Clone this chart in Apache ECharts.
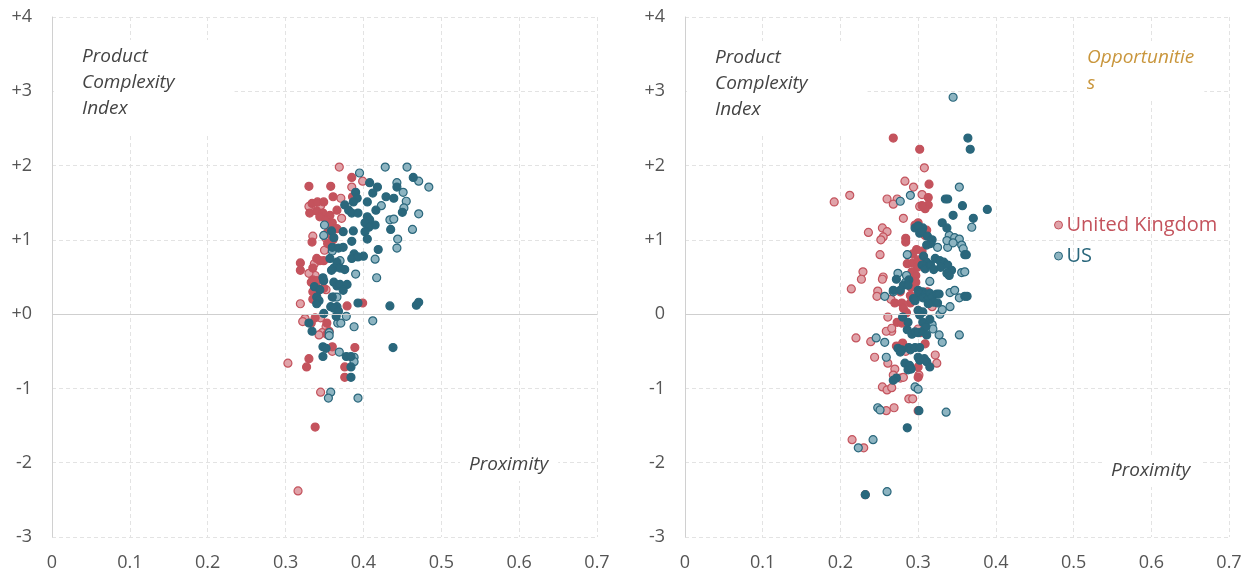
<!DOCTYPE html>
<html>
<head>
<meta charset="utf-8">
<script src="https://cdn.jsdelivr.net/npm/echarts@6/dist/echarts.min.js"></script>
<style>
  html, body { margin: 0; padding: 0; background: #fff; }
  #chart { width: 1254px; height: 578px; }
</style>
</head>
<body>
<div id="chart"></div>
<script>
// tick labels
const xTicks = [0, 0.1, 0.2, 0.3, 0.4, 0.5, 0.6, 0.7]
const yTicks = [-3, -2, -1, 0, 1, 2, 3, 4]

// left panel: [proximity, PCI]
const ukLeftDark = [[0.385,1.84],[0.330,1.72],[0.358,1.72],[0.361,1.58],[0.386,1.58],[0.334,1.49],[0.341,1.51],[0.349,1.51],[0.331,1.36],[0.340,1.39],[0.348,1.36],[0.344,1.31],[0.357,1.33],[0.366,1.40],[0.352,1.27],[0.360,1.23],[0.357,1.17],[0.366,1.15],[0.354,1.10],[0.334,0.97],[0.359,1.06],[0.361,1.00],[0.354,0.95],[0.340,0.75],[0.344,0.72],[0.349,0.72],[0.335,0.62],[0.319,0.69],[0.319,0.59],[0.335,0.46],[0.340,0.45],[0.333,0.43],[0.340,0.36],[0.349,0.35],[0.335,0.30],[0.340,0.24],[0.335,0.20],[0.379,0.11],[0.399,0.15],[0.338,-0.05],[0.333,-0.12],[0.353,-0.12],[0.356,-0.23],[0.353,-0.27],[0.389,-0.45],[0.360,-0.44],[0.330,-0.60],[0.327,-0.71],[0.338,-1.52],[0.376,-0.71],[0.376,-0.85]]
const ukLeftLight = [[0.369,1.98],[0.385,1.71],[0.399,1.79],[0.371,1.56],[0.330,1.45],[0.345,1.46],[0.372,1.29],[0.335,1.05],[0.352,1.02],[0.350,0.86],[0.338,0.52],[0.345,0.40],[0.352,0.33],[0.319,0.14],[0.325,-0.06],[0.322,-0.10],[0.345,-0.05],[0.352,-0.17],[0.347,-0.25],[0.343,-0.28],[0.303,-0.66],[0.345,-1.05],[0.316,-2.38],[0.360,-0.50],[0.385,-0.58],[0.337,0.68],[0.330,0.55]]
const usLeftDark = [[0.464,1.84],[0.408,1.77],[0.418,1.71],[0.443,1.71],[0.390,1.64],[0.392,1.56],[0.387,1.51],[0.412,1.63],[0.429,1.58],[0.439,1.56],[0.405,1.51],[0.376,1.47],[0.381,1.40],[0.385,1.36],[0.416,1.40],[0.450,1.37],[0.393,1.36],[0.405,1.31],[0.408,1.27],[0.402,1.23],[0.435,1.14],[0.415,1.20],[0.407,1.17],[0.359,1.12],[0.374,1.11],[0.387,1.12],[0.402,1.11],[0.362,1.03],[0.385,0.98],[0.405,1.01],[0.419,0.87],[0.360,0.90],[0.368,0.89],[0.374,0.90],[0.388,0.81],[0.385,0.75],[0.400,0.78],[0.393,0.77],[0.357,0.75],[0.366,0.70],[0.362,0.62],[0.370,0.62],[0.359,0.59],[0.376,0.60],[0.348,0.49],[0.349,0.45],[0.362,0.43],[0.366,0.38],[0.370,0.40],[0.379,0.40],[0.337,0.37],[0.344,0.33],[0.360,0.23],[0.374,0.32],[0.340,0.23],[0.343,0.18],[0.340,0.14],[0.358,0.10],[0.366,0.10],[0.362,0.08],[0.393,0.15],[0.434,0.11],[0.468,0.12],[0.471,0.16],[0.349,0.01],[0.365,-0.03],[0.368,0.04],[0.330,-0.12],[0.334,-0.23],[0.348,-0.44],[0.352,-0.46],[0.348,-0.57],[0.378,-0.57],[0.384,-0.57],[0.384,-0.71],[0.384,-0.85],[0.438,-0.45]]
const usLeftLight = [[0.428,1.98],[0.456,1.98],[0.471,1.79],[0.484,1.71],[0.443,1.77],[0.451,1.64],[0.455,1.52],[0.423,1.46],[0.452,1.43],[0.471,1.35],[0.434,1.27],[0.439,1.28],[0.463,1.14],[0.349,1.06],[0.444,1.01],[0.443,0.89],[0.415,0.74],[0.390,0.54],[0.417,0.49],[0.360,0.85],[0.370,0.72],[0.362,0.23],[0.366,0.23],[0.378,-0.03],[0.412,-0.09],[0.367,-0.12],[0.371,-0.12],[0.388,-0.17],[0.356,-0.25],[0.356,-0.29],[0.369,-0.51],[0.388,-0.58],[0.388,-0.64],[0.358,-1.05],[0.355,-1.13],[0.393,-1.13],[0.395,1.90],[0.350,1.20]]

// right panel
const ukRightDark = [[0.268,2.37],[0.302,2.22],[0.314,1.75],[0.313,1.57],[0.313,1.47],[0.309,1.42],[0.305,1.46],[0.296,1.20],[0.300,1.23],[0.311,1.13],[0.309,1.06],[0.284,1.02],[0.284,0.97],[0.286,0.68],[0.293,0.69],[0.300,0.70],[0.298,0.87],[0.305,0.85],[0.293,0.81],[0.300,0.73],[0.305,0.73],[0.299,0.63],[0.292,0.57],[0.297,0.52],[0.289,0.48],[0.297,0.43],[0.291,0.36],[0.277,0.30],[0.290,0.25],[0.296,0.23],[0.270,0.15],[0.279,0.15],[0.281,0.08],[0.300,0.05],[0.273,-0.11],[0.279,-0.12],[0.303,-0.25],[0.272,-0.43],[0.280,-0.39],[0.309,-0.40],[0.300,-0.71],[0.300,-0.85],[0.300,-1.30],[0.232,-2.43],[0.290,0.15],[0.312,0.30],[0.285,0.02]]
const ukRightLight = [[0.308,1.97],[0.283,1.79],[0.294,1.71],[0.305,1.61],[0.192,1.51],[0.212,1.60],[0.260,1.55],[0.273,1.55],[0.268,1.48],[0.302,1.45],[0.281,1.29],[0.254,1.16],[0.260,1.11],[0.255,1.04],[0.252,1.00],[0.236,1.10],[0.251,0.80],[0.229,0.57],[0.227,0.47],[0.255,0.50],[0.254,0.47],[0.214,0.34],[0.248,0.31],[0.247,0.24],[0.261,-0.04],[0.266,-0.23],[0.259,-0.23],[0.266,-0.19],[0.220,-0.32],[0.239,-0.37],[0.244,-0.58],[0.261,-0.66],[0.270,-0.74],[0.268,-0.82],[0.254,-0.98],[0.260,-1.02],[0.266,-0.99],[0.288,-1.14],[0.293,-1.14],[0.269,-1.26],[0.259,-1.30],[0.322,-0.55],[0.324,-0.66],[0.277,-0.86],[0.281,-0.85],[0.215,-1.69],[0.230,-1.80],[0.301,-0.82],[0.300,-0.20],[0.284,-0.50],[0.318,0.10],[0.265,0.20]]
const usRightDark = [[0.364,2.37],[0.367,2.22],[0.335,1.55],[0.338,1.55],[0.357,1.46],[0.345,1.33],[0.389,1.41],[0.371,1.29],[0.331,1.23],[0.337,1.16],[0.296,1.16],[0.302,1.09],[0.306,1.16],[0.300,1.19],[0.305,1.11],[0.312,1.05],[0.318,1.00],[0.316,0.95],[0.311,0.93],[0.360,0.80],[0.362,0.80],[0.307,0.78],[0.311,0.70],[0.305,0.66],[0.309,0.61],[0.316,0.66],[0.322,0.75],[0.328,0.72],[0.333,0.70],[0.338,0.66],[0.343,0.59],[0.320,0.60],[0.329,0.63],[0.337,0.55],[0.340,0.52],[0.272,0.47],[0.288,0.46],[0.281,0.39],[0.287,0.39],[0.268,0.32],[0.277,0.32],[0.300,0.32],[0.306,0.30],[0.301,0.28],[0.309,0.26],[0.315,0.28],[0.306,0.22],[0.294,0.21],[0.296,0.18],[0.312,0.19],[0.318,0.23],[0.324,0.27],[0.327,0.27],[0.320,0.16],[0.325,0.15],[0.313,0.14],[0.360,0.24],[0.363,0.24],[0.300,0.05],[0.306,0.03],[0.302,-0.01],[0.280,-0.04],[0.287,-0.11],[0.286,-0.21],[0.292,-0.27],[0.296,-0.24],[0.300,-0.25],[0.306,-0.23],[0.306,-0.11],[0.310,-0.17],[0.315,-0.07],[0.311,-0.28],[0.274,-0.46],[0.279,-0.48],[0.277,-0.51],[0.288,-0.45],[0.290,-0.48],[0.296,-0.45],[0.302,-0.45],[0.300,-0.58],[0.302,-0.62],[0.308,-0.60],[0.311,-0.64],[0.315,-0.71],[0.283,-0.66],[0.289,-0.69],[0.287,-0.75],[0.291,-0.74],[0.272,-0.86],[0.268,-0.89],[0.301,-1.30],[0.286,-1.53],[0.232,-2.43]]
const usRightLight = [[0.345,2.92],[0.353,1.71],[0.277,1.52],[0.290,1.60],[0.369,1.17],[0.340,1.06],[0.347,1.03],[0.353,1.01],[0.356,0.93],[0.338,0.90],[0.358,0.88],[0.337,0.99],[0.345,0.96],[0.286,0.80],[0.356,0.56],[0.360,0.57],[0.274,0.55],[0.284,0.43],[0.268,0.30],[0.257,0.24],[0.341,0.29],[0.347,0.32],[0.353,0.22],[0.328,0.00],[0.341,0.10],[0.318,-0.14],[0.319,-0.20],[0.327,-0.28],[0.353,-0.28],[0.246,-0.32],[0.257,-0.38],[0.331,-0.38],[0.259,-0.58],[0.296,-0.98],[0.300,-1.01],[0.248,-1.26],[0.251,-1.29],[0.336,-1.32],[0.242,-1.69],[0.223,-1.80],[0.260,-2.39],[0.331,0.06],[0.285,0.52],[0.325,0.90],[0.315,0.44]]

const UK_DARK = '#c4535d'
const UK_LIGHT = '#e0a3a9'
const US_DARK = '#2a677c'
const US_LIGHT = '#8db4c1'
const FONT = '"Open Sans", "Noto Sans", sans-serif'

const chart = echarts.init(document.getElementById('chart'))

function makeX (gridIndex) {
  return {
    type: 'value', gridIndex: gridIndex,
    min: xTicks[0], max: xTicks[xTicks.length - 1], interval: 0.1,
    axisLine: { show: false },
    axisTick: { show: false },
    axisLabel: {
      margin: 17, color: '#555', fontSize: 18, fontFamily: FONT,
      formatter: v => String(Math.round(v * 10) / 10)
    },
    splitLine: { show: true, lineStyle: { color: '#e3e3e3', type: [4, 3], width: 1 } }
  }
}

function makeY (gridIndex, plusZero) {
  return {
    type: 'value', gridIndex: gridIndex,
    min: yTicks[0], max: yTicks[yTicks.length - 1], interval: 1,
    axisLine: { show: true, lineStyle: { color: '#d0d0d0', width: 1 } },
    axisTick: { show: false },
    axisLabel: {
      margin: 20, color: '#555', fontSize: 18, fontFamily: FONT,
      formatter: v => v > 0 || (v === 0 && plusZero) ? '+' + v : String(v)
    },
    splitLine: { show: true, lineStyle: { color: '#e3e3e3', type: [4, 3], width: 1 } }
  }
}

function pts (name, data, idx, dark, light) {
  return {
    name: name, type: 'scatter', xAxisIndex: idx, yAxisIndex: idx,
    data: data, symbolSize: 8,
    itemStyle: { color: light || dark, borderColor: dark, borderWidth: 1.2, opacity: 1 },
    emphasis: { disabled: true }
  }
}

function zeroLine (idx) {
  return {
    type: 'scatter', xAxisIndex: idx, yAxisIndex: idx, data: [], silent: true,
    markLine: {
      silent: true, symbol: 'none', label: { show: false },
      lineStyle: { color: '#cfcfcf', type: 'solid', width: 1 },
      data: [{ yAxis: 0 }]
    }
  }
}

function note (text, x, y, color, pad) {
  return {
    type: 'text', left: x, top: y, z: 50,
    style: {
      text: text, fill: color, font: 'italic 19px ' + FONT, lineHeight: 26,
      backgroundColor: '#fff', padding: pad
    }
  }
}

chart.setOption({
  animation: false,
  grid: [
    { left: 52, right: 657, top: 17, bottom: 41 },
    { left: 685, right: 25, top: 17, bottom: 41 }
  ],
  xAxis: [makeX(0), makeX(1)],
  yAxis: [makeY(0, true), makeY(1, false)],
  legend: {
    orient: 'vertical', left: 1049, top: 210, itemGap: 11,
    itemWidth: 8, itemHeight: 8, icon: 'circle', selectedMode: false,
    textStyle: { fontSize: 20, fontFamily: FONT, padding: [0, 0, 0, -1] },
    data: [
      { name: 'United Kingdom', itemStyle: { color: UK_LIGHT, borderColor: UK_DARK, borderWidth: 1 }, textStyle: { color: UK_DARK } },
      { name: 'US', itemStyle: { color: US_LIGHT, borderColor: US_DARK, borderWidth: 1 }, textStyle: { color: US_DARK } }
    ]
  },
  graphic: [
    note('Product\nComplexity\nIndex', 54, 40, '#444', [4, 60, 12, 28]),
    note('Proximity', 460, 449, '#444', [3, 10, 3, 9]),
    note('Product\nComplexity\nIndex', 687, 41, '#444', [4, 60, 12, 28]),
    note('Opportunitie\ns', 1078, 41, '#c9963c', [4, 10, 4, 9]),
    note('Proximity', 1102, 455, '#444', [3, 10, 3, 9])
  ],
  series: [
    zeroLine(0), zeroLine(1),
    pts('United Kingdom', ukLeftLight, 0, UK_DARK, UK_LIGHT),
    pts('United Kingdom', ukLeftDark, 0, UK_DARK),
    pts('US', usLeftLight, 0, US_DARK, US_LIGHT),
    pts('US', usLeftDark, 0, US_DARK),
    pts('United Kingdom', ukRightLight, 1, UK_DARK, UK_LIGHT),
    pts('United Kingdom', ukRightDark, 1, UK_DARK),
    pts('US', usRightLight, 1, US_DARK, US_LIGHT),
    pts('US', usRightDark, 1, US_DARK)
  ]
})

window.addEventListener('resize', function () {
  chart.resize()
})
</script>
</body>
</html>
